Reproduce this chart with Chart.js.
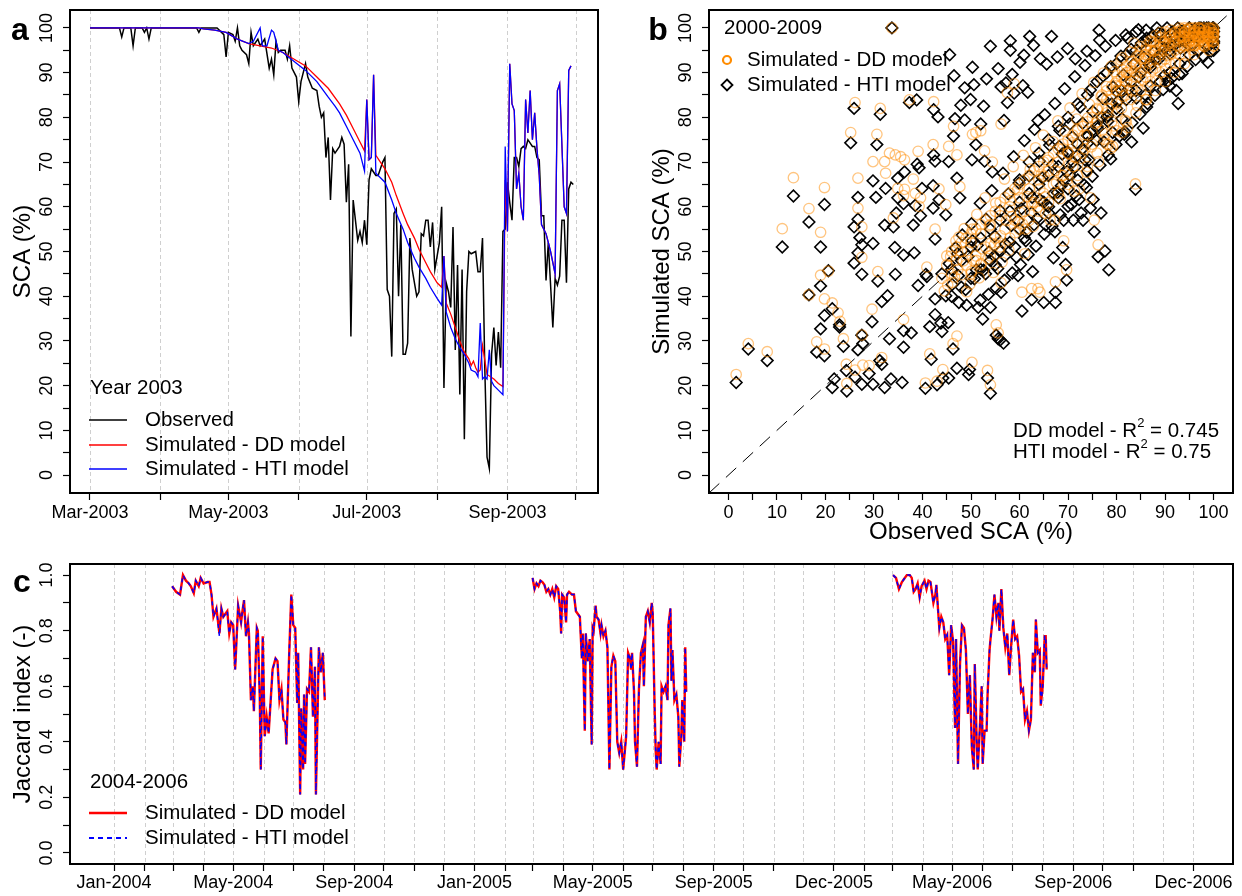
<!DOCTYPE html>
<html>
<head>
<meta charset="utf-8">
<script src="https://cdn.jsdelivr.net/npm/chart.js@4.4.1/dist/chart.umd.min.js"></script>
<style>
  html, body { margin: 0; padding: 0; background: #fff; }
  #wrap { position: relative; width: 1242px; height: 896px; }
  #wrap canvas { position: absolute; left: 0; top: 0; }
</style>
</head>
<body>
<div id="wrap">
  <canvas id="chartA" width="1242" height="896"></canvas>
  <canvas id="chartB" width="1242" height="896"></canvas>
  <canvas id="chartC" width="1242" height="896"></canvas>
</div>
<script>
// ---------- panel a : SCA 2003 (x = days since 1 Mar 2003) ----------
const monthDays2003 = [0, 31, 61, 92, 122, 153, 184, 214];
const monthLabels2003 = { 0: 'Mar-2003', 61: 'May-2003', 122: 'Jul-2003', 184: 'Sep-2003' };

const obsDays = [0,13,14,15,18,19,20,23,24,25,26,27,47,48,49,56,58,59,60,61,63,64,65,66,67,69,70,71,72,74,75,77,79,80,81,82,83,84,86,87,88,89,91,92,93,95,96,98,100,101,102,103,104,105,106,107,108,110,111,112,113,114,115,116,118,119,120,121,122,123,124,126,127,129,130,131,132,133,134,135,136,137,138,139,140,141,142,144,145,146,147,148,149,150,151,152,154,155,156,157,158,159,160,161,162,163,164,165,166,167,168,170,171,172,173,174,175,176,177,178,179,180,181,182,183,184,185,186,187,188,189,190,191,192,193,195,196,197,198,199,200,201,202,204,205,206,207,208,209,210,211,212,213];
const obsSca = [100,100,98,100,100,96,100,100,99,100,97.5,100,100,99,100,100,99,98.5,93.5,99,98.5,97,100,96,95,94,92,99,96,97.5,96,97.5,91,93,89.5,97,94.5,95,95,93,96,91,89,83.5,88,92,89,86.5,86,82.5,80,81,71,75.5,61.5,73,72,73.5,75.5,74,61,69.5,31,61.5,52.5,54.5,52,57,51.5,66,68.5,67,67,70,71,41.5,40,26.5,58.5,59.5,40,56,27,27,29.5,53,46,40,41,54,53.5,57,57,51,56.5,46,52,60,19.5,43,41,37.5,55.5,28,47,18,46,8,41,50,49.5,50,45.5,45.5,53,24,4,1.5,27,33,24.5,32,24,54.5,55,65.5,61,57,71,71,69,73,73.5,73,75,73.5,73.5,71,70.5,58,58,43.5,52,33,44,42.5,44.5,57,57,43,64,65.5,65];

const ddDays = [0,48,50,55,60,65,70,75,80,85,90,95,100,105,110,113,116,119,121,122,123,124,125,126,128,130,133,135,138,140,143,145,148,150,153,155,156,157,159,161,163,165,167,168,169,170,171,172,173,175,178,180,182,183,184,185,186,187,188,189,190,191,192,193,194,195,196,197,198,199,201,203,205,206,207,209,210,211,212];
const ddSca = [100,100,99.8,99.5,99,97.5,96.5,96,95.5,94.5,93,91.5,89,86.5,83,80.5,77.5,74.5,72.5,84,70.5,71,89.5,71.5,70,68.5,65.5,62.5,58.5,56,53,50.5,47.5,45.5,43,42,49,38.5,36,33,30,27.5,26,24.5,25.5,24,23,23.5,29,22.5,21.5,20.5,19.8,66,54.5,92,83,81.5,64,67.5,60,57,84,76.5,86,75,81,73,67,56,54,50,45,86,87.5,60,58.5,90.5,91.5];

const htiDays = [0,48,50,55,60,65,70,72,75,76,78,80,81,83,85,90,95,100,105,108,110,113,116,119,121,122,123,124,125,126,128,130,133,135,138,140,143,145,148,150,153,155,156,157,159,161,163,165,167,168,170,171,172,173,174,175,176,177,178,180,182,183,184,185,186,187,188,189,190,191,192,193,194,195,196,197,198,199,201,203,205,206,207,209,210,211,212];
const htiSca = [100,100,99.8,99.5,99,97.5,96.5,97,100,96,96,99.5,99,95,94.5,92.5,90.5,88,84.5,82.5,81,78,75,72,68,84,70.5,71,89.5,67.5,66.5,65.5,61.5,58.5,55,52,48.5,46.5,44,42,39.5,38,49,36.5,33,30.5,28.5,27,25,23.5,23,22,34,21.5,22,21.5,28,21,20,19,18,73.5,54.5,92,83,81.5,64,67.5,60,57,84,76.5,86,75,81,73,67,56,54,50,45,86,87.5,60,58.5,90.5,91.5];

// ---------- panel b : observed vs simulated SCA, 2000-2009 ----------
const htiPairs = [
[1.6,20.7],[4.1,28.2],[8.0,25.6],[11.1,51.0],[13.4,62.4],[16.6,56.6],[16.6,40.3],[18.2,27.5],[19.0,51.0],[19.0,42.3],[19.0,32.7],[19.8,60.5],[19.8,26.7],[19.8,35.7],[20.6,45.7],[21.4,37.2],[21.8,21.5],[21.4,19.6],[22.9,33.6],[22.9,33.1],[23.7,28.8],[24.3,23.4],[24.4,18.8],[25.2,74.3],[25.9,82.0],[25.9,55.5],[25.9,47.4],[26.1,21.9],[26.7,62.1],[26.7,57.2],[26.7,49.7],[26.7,28.0],[27.1,53.1],[27.5,51.5],[27.5,44.9],[27.5,31.3],[27.5,20.3],[27.7,29.4],[29.0,22.7],[29.6,34.3],[29.8,20.3],[29.8,51.8],[29.8,65.8],[30.4,62.1],[30.6,73.9],[30.8,43.4],[31.2,25.6],[31.3,80.7],[31.6,24.8],[31.6,38.8],[32.2,19.6],[32.4,64.1],[32.2,55.9],[32.8,40.1],[33.2,30.5],[33.5,21.5],[33.7,100],[34.0,55.5],[34.3,50.9],[34.4,44.9],[34.6,58.6],[34.9,62.0],[34.9,66.4],[35.8,20.7],[36.1,28.6],[36.1,32.3],[36.1,60.7],[36.3,67.8],[36.1,49.2],[37.3,83.3],[37.7,31.8],[38.1,55.9],[38.3,49.7],[38.5,60.3],[38.8,83.9],[38.9,69.5],[39.1,42.4],[39.3,68.7],[39.6,58.0],[39.9,64.1],
[40.6,19.4],[40.7,44.9],[40.9,44.4],[41.5,33.2],[41.8,25.9],[42.2,64.7],[42.2,59.7],[42.3,81.7],[42.3,71.6],[42.6,70.2],[42.6,52.8],[42.6,39.4],[42.6,35.9],[43.0,20.2],[43.2,80.1],[43.4,61.6],[43.8,34.0],[44.0,32.1],[44.2,21.7],[44.8,58.2],[45.3,34.1],[45.4,21.7],[45.4,70.1],[45.6,94.0],[46.3,28.2],[46.4,75.8],[46.5,89.3],[46.7,79.7],[47.1,23.9],[47.1,66.4],[47.2,49.5],[47.5,38.6],[47.7,62.0],[47.9,82.7],[48.7,86.6],[48.7,79.4],[49.1,38.0],[49.5,22.5],[49.7,23.6],[49.9,84.0],[50.2,70.5],[50.3,52.4],[50.3,91.2],[50.6,87.3],[51.0,73.9],[51.1,45.9],[51.5,37.5],[52.0,78.5],[52.4,34.9],[52.6,82.5],[52.8,70.2],[53.2,88.6],[53.4,21.7],[54.0,18.3],[54.0,37.5],[54.0,95.9],[54.4,67.8],[54.8,49.0],[55.2,31.3],[55.6,30.5],[55.6,90.9],[56.0,30.2],[56.2,40.9],[56.2,86.8],[56.7,29.5],[56.8,79.3],[57.2,87.7],[57.5,83.3],[58.1,95.0],[58.1,97.1],[58.5,89.6],[58.9,85.4],[59.7,57.0],[59.7,44.6],
[60.1,92.3],[60.5,36.7],[60.7,87.1],[60.9,93.9],[61.3,52.4],[61.7,85.6],[62.1,98.1],[62.5,58.6],[62.5,39.2],[62.7,45.5],[62.9,96.1],[63.8,79.3],[64.2,61.6],[64.3,93.1],[65.0,38.6],[65.4,55.9],[65.6,91.9],[66.0,58.6],[66.6,98.1],[67.0,48.6],[67.3,54.4],[67.4,40.9],[67.4,38.6],[67.8,93.5],[68.2,73.5],[68.6,64.7],[68.9,50.9],[69.1,57.0],[69.5,47.1],[69.7,43.6],[69.9,95.4],[69.9,72.3],[70.3,67.1],[70.7,60.5],[71.1,57.0],[71.5,68.9],[71.5,93.1],[72.3,61.6],[72.7,58.6],[73.1,57.0],[73.5,70.5],[73.8,64.3],[73.9,94.8],[74.1,75.8],[74.3,70.5],[74.6,59.7],[75.2,61.6],[75.4,54.4],[75.9,74.8],[76.2,48.8],[76.4,99.5],[76.5,97.3],[76.8,58.6],[77.4,74.5],[77.6,50.1],[78.2,79.1],[78.4,45.9],[78.8,70.7],[79.2,76.6],
[80.0,85.8],[80.6,75.8],[81.1,79.7],[81.7,76.8],[82.3,97.7],[83.1,74.5],[83.9,63.9],[84.1,84.3],[84.5,99.6],[85.5,77.6],[86.2,82.3],[86.2,97.7],[87.0,91.2],[88.6,98.8],[89.8,89.3],[90.6,88.1],[91.0,87.0],[92.3,86.0],[92.7,83.1],[93.5,89.8],[98.8,92.3],[100,95.0],
[44,45],[46,46],[48,48],[50,51],[52,53],[54,55],[56,57],[58,59],[60,61],[62,63],[64,65],[66,67],[68,69],[70,72],[72,74],[74,76],[76,78],[78,80],[80,82],[82,84],[84,86],[86,85],[87,87],[89,88],[91,90],[93,92],[95,94],[97,95],[99,96],[100,97],[100,98],[100,100],[99,99],[98,100],[97,99],[96,98],[95,100],[94,97],[93,99],[92,98],[91,95],[90,97],[89,96],[88,93],
[60,66],[62,70],[64,72],[66,75],[68,78],[70,80],[72,83],[74,85],[76,88],[78,90],[80,92],[82,94],[84,95],[86,97],[66,60],[68,62],[70,64],[72,66],[74,68],[60,55],[58,52],[56,50],[54,48],[52,46],[50,44],[48,42],[46,40],
[53,45],[55,47],[57,49],[59,51],[61,53],[63,56],[65,61],[67,63],[69,66],[71,70],[73,73],[75,77],[77,80],[79,83],[81,86],[83,88],[85,90],[87,92],[89,94],[91,96],[93,97],[95,98],[97,100],[99,100]
];
const htiBandPairs = [
[44.8,40.1],[45.5,47.3],[46.1,42.6],[46.8,50.8],[47.4,44.6],[48.2,53.7],[48.9,41.5],[49.4,48.9],[50.1,56.2],[50.7,43.9],[51.3,51.4],[51.9,60.8],[52.6,45.8],[53.1,57.2],[53.7,49.9],[54.3,63.6],[54.9,53.4],[55.5,46.2],[56.0,59.1],[56.6,67.5],[57.1,51.7],[57.7,62.9],[58.3,55.8],[58.8,71.2],[59.4,48.7],[59.9,65.3],[60.4,59.6],[61.0,74.8],[61.5,54.3],[62.0,66.9],[62.6,62.1],[63.1,77.3],[63.6,57.4],[64.1,70.2],[64.7,66.5],[65.2,80.6],[65.7,60.3],[66.2,73.8],[66.8,69.4],[67.3,83.1],[67.8,63.2],[68.3,77.1],[68.8,71.8],[69.3,86.4],[69.8,67.9],[70.4,78.5],[70.9,75.6],[71.4,89.1],[71.9,71.4],[72.5,82.3],[73.0,78.7],[73.5,91.6],[74.0,74.2],[74.6,86.1],[75.1,81.3],[75.6,93.8],[76.1,77.5],[76.7,88.7],[77.2,84.2],[77.7,95.9],[78.2,80.4],[78.8,91.3],[79.3,86.8],[79.8,97.2],[80.3,83.6],[80.9,93.7],[81.4,89.5],[81.9,98.4],[82.5,86.3],[83.0,95.2],[83.5,91.9],[84.0,99.1],[84.6,89.0],[85.1,96.6],[85.6,93.4],[86.1,99.5],[86.7,91.8],[87.2,97.9],[87.7,94.6],[88.3,100],[88.8,93.1],[89.3,98.7],[89.9,95.4],[90.4,100],[91.0,94.2],[91.5,99.1],[92.1,96.3],[92.6,100],[93.2,95.5],[93.8,99.4],[94.4,97.6],[95.0,100],[95.6,96.4],[96.2,99.8],[96.8,97.9],[97.4,100],[98.0,98.4],[98.6,100],[99.2,98.9],[99.8,100],[100,99.2],[100,96.6],[99.5,94.8],[97.9,93.6],[96.3,92.9],[94.6,91.4],[92.9,89.6],[91.3,88.7],[89.6,86.2],[87.9,84.9],[86.4,83.1],[84.8,80.7],[83.2,78.8],[81.6,76.2],[79.9,73.9],[78.3,71.6],[76.6,69.3],[75.0,66.8],[73.3,64.9],[71.7,62.4],[70.0,60.1],[68.4,58.2],[66.7,55.7],[65.1,53.9],[63.4,51.2],[61.8,49.3],[60.2,47.1],[58.5,45.2],[56.9,43.6],[55.2,41.8],[53.6,40.4],[51.9,39.1]
];
const ddPairs = [
[1.6,22.5],[4.1,29.4],[8.0,27.6],[11.1,55.1],[13.4,66.5],[16.6,59.6],[16.6,40.3],[19.0,54.3],[19.0,44.7],[18.2,29.8],[19.8,64.3],[19.8,39.4],[19.8,28.2],[20.6,45.6],[22.6,36.3],[23.0,34.4],[23.7,30.5],[24.3,24.8],[25.2,76.6],[26.1,83.3],[26.7,66.4],[26.7,59.7],[27.5,55.5],[27.5,48.7],[27.5,31.3],[27.7,24.6],[29.6,37.1],[29.8,70.1],[30.6,76.2],[30.8,45.5],[31.3,82.0],[31.6,26.3],[32.2,70.1],[33.2,72.0],[33.7,100],[34.4,71.6],[34.9,64.1],[35.5,71.2],[36.1,34.8],[36.3,70.5],[36.3,63.9],[37.3,83.9],[38.1,66.2],[39.1,72.4],[39.3,60.1],[39.6,62.0],
[40.6,20.6],[41.5,27.1],[42.2,73.9],[42.3,83.5],[43.0,21.0],[44.2,23.6],[45.4,73.5],[46.3,29.4],[47.1,71.6],[47.1,31.1],[47.5,53.2],[50.2,25.2],[50.3,76.2],[51.0,76.6],[52.0,77.0],[53.4,23.4],[54.0,20.2],[55.2,33.6],[55.6,31.8],[56.2,78.5],[59.7,56.6],[60.5,40.9],[62.5,41.7],[63.8,41.7],[64.2,40.9],[67.4,43.2],[69.1,52.4],[69.7,45.9],[75.4,57.0],[77.4,75.1],[78.4,73.9],[79.2,73.5],[81.1,76.6],[82.3,77.7],[83.9,65.1],[86.2,83.9],
[21.4,38.5],[24.4,20.5],[26.1,23.5],[29.0,24.5],[32.4,67.5],[34.0,57.5],[36.1,62.5],[38.5,63.0],[40.9,46.5],[42.6,55.0],[43.4,64.0],[44.8,60.5],[46.4,78.0],[47.7,64.5],[49.1,41.0],[50.3,55.0],[51.1,48.0],[52.8,72.5],[54.4,70.0],[54.8,51.5],[56.2,43.0],[57.5,85.5],[58.9,87.5],[61.3,55.0],[62.5,61.0],[64.2,64.0],[65.4,58.5],[67.3,57.0],[68.6,67.0],[70.3,69.5],[71.5,71.0],[72.3,64.0],[73.5,73.0],[74.6,62.0],[76.2,51.5],[78.8,73.0],
[44,44],[45,47],[46,45],[47,48],[48,50],[49,47],[50,52],[51,49],[52,54],[53,51],[54,56],[55,53],[56,58],[57,55],[58,60],[59,57],[60,62],[61,59],[62,64],[63,61],[64,66],[65,63],[66,68],[67,65],[68,70],[69,67],[70,72],[71,69],[72,74],[73,72],[74,76],[75,74],[76,79],[77,77],[78,81],[79,79],[80,83],[81,82],[82,85],[83,84],[84,87],[85,86],[86,89],[87,88],[88,91],[89,90],[90,93],[91,92],[92,95],[93,94],[94,96],[95,96],[96,97],[97,98],[98,99],[99,99],[100,100],[100,99],[100,98],[99,100],[98,100],[97,100],[96,100],[95,99],[94,99],[93,98],[92,97],[91,96],[90,95],[89,94],[88,93],[87,92],[86,91],[85,90],[84,89],[83,88],[82,88],[81,86],[80,86],[79,84],[78,84],[77,82],[76,82],[75,80],[74,79],[73,78],[72,77],[71,76],[70,75],[69,74],[68,73],[67,72],[66,71],[65,70],[64,69],[63,68],[62,67],[61,66],[60,65],[59,64],[58,63],[57,62],[56,61],[55,59],[54,58],[53,57],[52,56],[51,55],[50,54],[49,53],[48,52],[47,51],[46,50],[45,49],
[50,45],[52,47],[54,49],[56,51],[58,53],[60,55],[62,57],[64,59],[66,61],[68,63],[70,65],[72,67],[74,69],[76,72],[78,74],[80,77],[82,79],[84,81],[86,84],[88,86],[90,88],[92,90],[94,92],[96,94],[98,96],
[93,100],[94,100],[95,100],[96,99],[97,99],[98,98],[99,98],[100,97],[100,96],[99,95],[98,97],[97,97],[96,96],[95,97],[94,98],[92,99],[91,98],[90,97],[89,97],[88,96],[87,95],[86,94],[85,93],[84,92],[83,91],[82,90],[81,89],[80,88],[79,87],[78,86],[77,85]
];
const ddBandPairs = [
[44.5,41.2],[45.8,48.9],[46.2,43.1],[46.9,52.4],[47.3,46.0],[48.1,44.8],[48.6,55.1],[49.3,50.2],[49.8,42.7],[50.6,47.9],[51.2,58.3],[51.7,44.1],[52.3,50.6],[52.9,62.0],[53.5,48.4],[53.8,55.7],[54.6,45.3],[55.1,60.8],[55.7,52.1],[56.4,47.6],[56.9,66.2],[57.3,56.9],[57.8,50.3],[58.2,61.4],[58.7,69.0],[59.1,54.2],[59.6,63.8],[60.2,58.7],[60.8,71.5],[61.1,49.5],[61.6,62.3],[62.2,68.4],[62.8,55.6],[63.3,73.2],[63.7,59.9],[64.5,67.3],[64.9,76.0],[65.3,62.2],[65.8,70.4],[66.3,57.1],[66.9,74.6],[67.4,68.1],[67.9,79.2],[68.4,61.8],[68.8,72.9],[69.4,76.8],[69.8,66.0],[70.4,82.1],[70.9,74.3],[71.3,63.5],[71.8,79.6],[72.5,70.8],[72.9,85.3],[73.4,76.1],[73.8,67.7],[74.4,82.9],[74.8,73.4],[75.3,87.8],[75.7,78.6],[76.3,70.1],[76.8,84.6],[77.3,89.9],[77.7,76.3],[78.3,82.0],[78.9,91.4],[79.4,78.1],[79.8,87.6],[80.3,81.2],[80.9,92.8],[81.4,84.7],[81.8,79.3],[82.4,90.1],[82.9,94.6],[83.3,85.9],[83.8,91.7],[84.3,82.6],[84.9,95.8],[85.4,88.4],[85.8,93.2],[86.4,86.9],[86.9,97.1],[87.4,90.6],[87.9,94.9],[88.3,88.2],[88.8,97.8],[89.3,92.5],[89.7,96.4],[90.2,90.9],[90.8,98.6],[91.3,94.3],[91.7,97.5],[92.2,92.1],[92.8,99.2],[93.3,95.6],[93.7,98.1],[94.2,93.9],[94.7,99.6],[95.2,97.2],[95.6,95.1],[96.1,98.8],[96.6,96.5],[97.1,99.7],[97.5,97.9],[98.1,95.8],[98.6,99.1],[99.1,97.4],[99.5,99.8],[100,98.6],[100,95.9],[99.6,96.9],[98.9,98.3],[97.8,96.2],[96.9,100],[95.9,99.4],[94.9,96.7],[93.9,97.3],[92.6,96.0],[91.1,99.5],[90.5,93.8],[89.1,99.0],[87.6,96.8],[86.1,95.2],[84.6,93.9],[83.6,96.6],[81.1,93.3],[79.6,90.2],[77.9,86.9],[76.0,81.7],[74.1,79.9],[71.9,77.4],[70.1,71.9],[67.6,65.4],[65.1,66.8],[62.6,60.4],[60.6,56.2],[58.4,57.8],[56.1,53.5],[54.1,51.9],[52.1,47.3],[50.1,45.6],[48.4,47.9],[46.6,44.3],[45.2,42.5]
];
const ddTopPairs = [
[93.4,99.7],[93.9,98.9],[94.3,99.5],[94.8,98.4],[95.3,99.9],[95.7,98.7],[96.2,99.3],[96.7,98.2],[97.2,99.8],[97.6,98.8],[98.2,99.4],[98.7,98.5],[99.2,99.9],[99.7,99.0],[100,99.6],[100,98.8],[99.9,97.9],[99.4,97.2],[98.8,96.9],[98.3,97.6],[97.7,96.6],[97.3,98.1],[96.8,97.4],[96.3,96.1],[95.8,97.9],[95.4,96.3],[94.9,97.6],[94.4,96.2],[93.8,96.9],[93.1,98.4],[92.6,97.6],[92.1,98.9],[91.6,96.8],[91.2,98.2],[90.7,96.5],[90.1,99.1],[89.6,95.8],[89.2,97.9],[88.7,95.1],[88.1,98.3],[87.6,94.7],[87.1,96.9],[86.6,93.6],[86.2,96.1],[85.7,92.4],[85.2,94.8],[84.8,91.3],[84.2,93.7],[83.7,90.2],[83.2,92.6],[82.6,89.4],[82.1,91.5],[81.6,88.1],[81.2,90.6],[80.6,86.9],[80.1,89.3]
];
const oneToOne = [-4, 104];

// ---------- panel c : Jaccard index 2004-2006 (x = days since 1 Jan 2004) ----------
const monthDays0406 = [0,31,60,91,121,152,182,213,244,274,305,335,366,397,425,456,486,517,547,578,609,639,670,700,731,762,790,821,851,882,912,943,974,1004,1035,1065,1096];
const tickDays0406 = [0,31,60,91,121,152,182,213,244,274,305,335,366,397,425,456,486,517,547,578,609,639,670,731,762,790,821,851,882,912,943,974,1004,1035,1096];
const monthLabels0406 = { 0: 'Jan-2004', 121: 'May-2004', 244: 'Sep-2004', 366: 'Jan-2005', 486: 'May-2005', 609: 'Sep-2005', 731: 'Dec-2005', 851: 'May-2006', 974: 'Sep-2006', 1096: 'Dec-2006' };

const jacDays2004 = [59,61,63,67,70,73,76,78,81,83,86,88,91,95,97,99,101,104,107,109,111,113,115,117,119,121,123,126,129,130,132,134,136,137,139,141,142,145,146,148,149,151,153,155,157,161,164,166,168,170,172,174,175,178,180,182,184,186,187,189,190,192,193,194,196,198,200,202,204,205,208,210,212,214];
const jacDd2004 = [0.96,0.95,0.94,0.93,1.0,0.98,0.97,0.96,0.935,0.98,0.96,0.99,0.97,0.975,0.975,0.93,0.85,0.88,0.79,0.88,0.85,0.86,0.87,0.79,0.83,0.82,0.66,0.89,0.83,0.86,0.91,0.78,0.83,0.79,0.55,0.60,0.51,0.81,0.80,0.56,0.30,0.78,0.42,0.49,0.43,0.66,0.70,0.69,0.55,0.59,0.48,0.47,0.39,0.73,0.93,0.82,0.81,0.54,0.72,0.21,0.52,0.30,0.57,0.32,0.59,0.58,0.74,0.49,0.67,0.21,0.74,0.65,0.72,0.55];
const jacHti2004 = [0.96,0.95,0.94,0.93,1.0,0.98,0.97,0.96,0.935,0.98,0.96,0.99,0.97,0.975,0.975,0.93,0.85,0.88,0.78,0.88,0.85,0.86,0.87,0.79,0.83,0.82,0.66,0.89,0.83,0.86,0.91,0.78,0.83,0.79,0.55,0.60,0.51,0.81,0.80,0.56,0.30,0.78,0.42,0.49,0.43,0.66,0.70,0.69,0.55,0.59,0.48,0.47,0.39,0.73,0.93,0.82,0.81,0.54,0.72,0.21,0.52,0.30,0.57,0.32,0.59,0.58,0.74,0.49,0.67,0.21,0.74,0.65,0.72,0.55];

const jacDays2005 = [425,427,429,431,433,435,437,439,441,443,445,447,449,451,453,454,455,457,459,460,462,465,467,469,471,473,475,476,478,479,481,483,485,486,487,489,490,492,494,495,497,499,501,503,505,507,509,511,513,515,517,520,522,524,525,526,528,529,531,533,535,537,538,540,542,544,546,547,549,550,551,553,555,556,558,560,562,563,565,566,567,569,571,573,574,576,577,579,580,581];
const jacDd2005 = [0.99,0.95,0.97,0.96,0.98,0.975,0.965,0.94,0.95,0.93,0.95,0.92,0.96,0.95,0.87,0.79,0.93,0.92,0.83,0.93,0.94,0.93,0.93,0.87,0.86,0.85,0.70,0.79,0.44,0.79,0.69,0.77,0.39,0.81,0.80,0.89,0.85,0.84,0.79,0.82,0.78,0.80,0.74,0.30,0.67,0.71,0.69,0.40,0.36,0.40,0.30,0.42,0.72,0.70,0.66,0.72,0.58,0.40,0.31,0.59,0.72,0.75,0.60,0.85,0.87,0.83,0.90,0.86,0.51,0.37,0.30,0.40,0.32,0.60,0.58,0.60,0.55,0.82,0.88,0.62,0.73,0.55,0.57,0.49,0.31,0.42,0.55,0.40,0.74,0.58];
const jacHti2005 = [0.99,0.95,0.97,0.96,0.98,0.975,0.965,0.94,0.95,0.93,0.95,0.92,0.96,0.95,0.87,0.79,0.93,0.92,0.83,0.93,0.94,0.93,0.93,0.87,0.86,0.85,0.70,0.79,0.44,0.79,0.69,0.77,0.39,0.81,0.80,0.89,0.85,0.84,0.79,0.82,0.78,0.80,0.74,0.30,0.67,0.71,0.69,0.40,0.36,0.40,0.30,0.42,0.72,0.70,0.66,0.72,0.58,0.40,0.31,0.59,0.72,0.75,0.60,0.85,0.87,0.83,0.90,0.86,0.51,0.37,0.30,0.40,0.32,0.60,0.58,0.60,0.55,0.82,0.88,0.62,0.73,0.55,0.57,0.49,0.31,0.42,0.55,0.40,0.74,0.58];

const jacDays2006 = [791,794,797,800,802,805,808,810,812,814,816,818,820,823,825,827,829,832,834,835,837,838,840,842,844,846,848,850,852,854,855,857,859,861,863,865,867,869,871,873,874,876,877,879,881,882,884,886,887,889,890,892,894,896,898,899,901,903,905,907,909,911,913,915,917,919,921,923,925,927,929,931,933,935,936,938,940,941,943,945,946,947];
const jacDd2006 = [1.0,0.99,0.95,0.975,0.985,1.0,1.0,0.99,0.94,0.95,0.97,0.92,0.96,0.98,0.95,0.98,0.975,0.90,0.93,0.965,0.86,0.81,0.85,0.83,0.77,0.785,0.64,0.82,0.76,0.45,0.77,0.32,0.68,0.82,0.81,0.73,0.50,0.64,0.38,0.30,0.68,0.39,0.30,0.44,0.60,0.32,0.44,0.44,0.57,0.73,0.77,0.84,0.93,0.85,0.90,0.80,0.95,0.81,0.74,0.79,0.64,0.75,0.84,0.77,0.78,0.71,0.58,0.59,0.48,0.51,0.44,0.48,0.72,0.65,0.84,0.72,0.73,0.53,0.60,0.78,0.78,0.66];
const jacHti2006 = [1.0,0.99,0.95,0.975,0.985,1.0,1.0,0.99,0.94,0.95,0.97,0.92,0.96,0.98,0.95,0.98,0.975,0.90,0.93,0.965,0.86,0.81,0.85,0.83,0.77,0.785,0.64,0.82,0.76,0.45,0.77,0.32,0.68,0.82,0.81,0.73,0.50,0.64,0.38,0.30,0.68,0.39,0.30,0.44,0.60,0.32,0.44,0.44,0.57,0.73,0.77,0.84,0.93,0.85,0.90,0.80,0.95,0.81,0.74,0.79,0.64,0.75,0.84,0.77,0.78,0.71,0.58,0.59,0.48,0.51,0.44,0.48,0.72,0.65,0.84,0.72,0.73,0.53,0.60,0.78,0.78,0.66];

const scaTicks = [0,5,10,15,20,25,30,35,40,45,50,55,60,65,70,75,80,85,90,95,100];
const scaLabels = [0,10,20,30,40,50,60,70,80,90,100];
const jacTicks = [0,0.1,0.2,0.3,0.4,0.5,0.6,0.7,0.8,0.9,1.0];
const jacLabels = [0,0.2,0.4,0.6,0.8,1.0];

// ---------- helpers ----------
const FONT = '"Liberation Sans", Arial, Helvetica, sans-serif';
Chart.defaults.font.family = FONT;
Chart.defaults.color = '#000';
const W = 1242, H = 896;

const boxA = { left: 70, top: 10, right: 598, bottom: 493 };
const boxB = { left: 709, top: 10, right: 1233, bottom: 493 };
const boxC = { left: 70, top: 564, right: 1233, bottom: 864 };

function pts(xs, ys) { return xs.map((x, i) => ({ x: x, y: ys[i] })); }
function pairs(list) { return list.map(p => ({ x: p[0], y: p[1] })); }
function segments(dayLists, valLists) {
  const out = [];
  dayLists.forEach((days, k) => {
    if (k) out.push({ x: days[0] - 1, y: null });
    days.forEach((d, i) => out.push({ x: d, y: valLists[k][i] }));
  });
  return out;
}

const tickGrid = { drawOnChartArea: false, drawTicks: true, tickLength: 7, tickColor: '#000', tickWidth: 1.2 };

function yAxis(box, min, max, ticks) {
  return {
    type: 'linear', position: 'left', min: min, max: max,
    afterBuildTicks: s => { s.ticks = ticks.map(v => ({ value: v })); },
    afterFit: s => { s.width = box.left; s.paddingTop = 0; s.paddingBottom = 0; },
    ticks: { display: false },
    grid: tickGrid,
    border: { display: false }
  };
}
function xAxis(box, min, max, ticks, labelOf, pad) {
  return {
    type: 'linear', position: 'bottom', min: min, max: max,
    afterBuildTicks: s => { s.ticks = ticks.map(v => ({ value: v })); },
    afterFit: s => { s.height = H - box.bottom; s.paddingLeft = 0; s.paddingRight = 0; },
    ticks: { autoSkip: false, maxRotation: 0, minRotation: 0, padding: pad, color: '#000',
             font: { size: 18 }, callback: labelOf },
    grid: tickGrid,
    border: { display: false }
  };
}
function layoutFor(box) {
  return { padding: { left: 0, top: box.top, right: W - box.right, bottom: 0 } };
}

// R-style frame, dashed month lines, rotated y labels, titles and legends
const rPanel = {
  id: 'rPanel',
  beforeDatasetsDraw(chart, args, o) {
    if (!o.vgrid) return;
    const { ctx, chartArea: a } = chart;
    const xs = chart.scales.x;
    ctx.save();
    ctx.strokeStyle = '#cfcfcf'; ctx.lineWidth = 1; ctx.setLineDash([4, 3]);
    for (const d of o.vgrid) {
      const px = Math.round(xs.getPixelForValue(d)) + 0.5;
      ctx.beginPath(); ctx.moveTo(px, a.top); ctx.lineTo(px, a.bottom); ctx.stroke();
    }
    ctx.restore();
  },
  afterDraw(chart, args, o) {
    const { ctx, chartArea: a } = chart;
    const ys = chart.scales.y;
    ctx.save();
    ctx.strokeStyle = '#000'; ctx.lineWidth = 2; ctx.setLineDash([]);
    ctx.strokeRect(a.left, a.top, a.right - a.left, a.bottom - a.top);
    ctx.fillStyle = '#000';
    ctx.textAlign = 'center'; ctx.textBaseline = 'middle';
    ctx.font = '18px ' + FONT;
    for (const v of o.yLabels) {
      ctx.save();
      ctx.translate(o.yLabelX, ys.getPixelForValue(v));
      ctx.rotate(-Math.PI / 2);
      ctx.fillText(o.yFmt(v), 0, 0);
      ctx.restore();
    }
    ctx.font = '24px ' + FONT;
    ctx.save();
    ctx.translate(o.yTitleX, (a.top + a.bottom) / 2);
    ctx.rotate(-Math.PI / 2);
    ctx.fillText(o.yTitle, 0, 0);
    ctx.restore();
    if (o.xTitle) ctx.fillText(o.xTitle, (a.left + a.right) / 2, o.xTitleY);
    ctx.font = 'bold 32px ' + FONT;
    ctx.fillText(o.letter[0], o.letter[1], o.letter[2]);

    const lg = o.legend;
    ctx.textAlign = 'left';
    ctx.font = '20.5px ' + FONT;
    ctx.fillText(lg.title, lg.titleX, lg.titleY);
    for (const it of lg.items) {
      ctx.save();
      ctx.strokeStyle = it.color; ctx.lineWidth = it.width; ctx.setLineDash(it.dash || []);
      ctx.beginPath();
      if (it.kind === 'line') {
        ctx.moveTo(lg.x0, it.y); ctx.lineTo(lg.x1, it.y);
      } else if (it.kind === 'circle') {
        ctx.arc(lg.sx, it.y, 4, 0, Math.PI * 2);
      } else {
        ctx.moveTo(lg.sx, it.y - 5.5); ctx.lineTo(lg.sx + 5.5, it.y);
        ctx.lineTo(lg.sx, it.y + 5.5); ctx.lineTo(lg.sx - 5.5, it.y); ctx.closePath();
      }
      ctx.stroke();
      ctx.restore();
      ctx.fillText(it.text, lg.tx, it.y);
    }
    if (o.notes) {
      for (const n of o.notes) {
        let x = n.x;
        for (const part of n.parts) {
          if (part.sup) {
            ctx.font = '13px ' + FONT;
            ctx.fillText(part.t, x, n.y - 8);
          } else {
            ctx.font = '20.5px ' + FONT;
            ctx.fillText(part.t, x, n.y);
          }
          x += ctx.measureText(part.t).width;
        }
      }
    }
    ctx.restore();
  }
};
Chart.register(rPanel);

const common = { responsive: false, animation: false, events: [],
  plugins: { legend: { display: false }, tooltip: { enabled: false } } };

// ---------- panel a ----------
new Chart(document.getElementById('chartA'), {
  type: 'scatter',
  data: { datasets: [
    { data: pts(htiDays, htiSca), showLine: true, borderColor: '#0000ff', borderWidth: 1.3, pointRadius: 0, order: 0 },
    { data: pts(ddDays, ddSca), showLine: true, borderColor: '#ff0000', borderWidth: 1.3, pointRadius: 0, order: 1 },
    { data: pts(obsDays, obsSca), showLine: true, borderColor: '#000000', borderWidth: 1.5, pointRadius: 0, order: 2 }
  ] },
  options: Object.assign({}, common, {
    layout: layoutFor(boxA),
    scales: {
      x: xAxis(boxA, -8.8, 223.9, monthDays2003, v => monthLabels2003[v] || '', 2),
      y: yAxis(boxA, -4, 104, scaTicks)
    },
    plugins: Object.assign({}, common.plugins, { rPanel: {
      vgrid: monthDays2003,
      yLabels: scaLabels, yFmt: v => String(v), yLabelX: 47,
      yTitle: 'SCA (%)', yTitleX: 23,
      letter: ['a', 20, 31],
      legend: { title: 'Year 2003', titleX: 90, titleY: 388, x0: 89, x1: 127, sx: 108, tx: 145,
        items: [
          { kind: 'line', text: 'Observed', y: 420, color: '#000', width: 1.5 },
          { kind: 'line', text: 'Simulated - DD model', y: 445, color: '#ff0000', width: 1.5 },
          { kind: 'line', text: 'Simulated - HTI model', y: 469, color: '#0000ff', width: 1.5 }
        ] }
    } })
  })
});

// ---------- panel b ----------
new Chart(document.getElementById('chartB'), {
  type: 'scatter',
  data: { datasets: [
    { data: pairs(ddPairs.concat(ddBandPairs, ddTopPairs)), pointStyle: 'circle', pointRadius: 5.2, borderWidth: 1.3,
      borderColor: 'rgba(255,140,0,0.5)', backgroundColor: 'rgba(0,0,0,0)', order: 0 },
    { data: pairs(htiPairs.concat(htiBandPairs)), pointStyle: 'rectRot', pointRadius: 5.8, borderWidth: 1.6,
      borderColor: '#000', backgroundColor: 'rgba(0,0,0,0)', order: 1 },
    { data: pts(oneToOne, oneToOne), showLine: true, borderColor: '#000', borderWidth: 1,
      borderDash: [14, 9], pointRadius: 0, order: 2 }
  ] },
  options: Object.assign({}, common, {
    layout: layoutFor(boxB),
    scales: {
      x: xAxis(boxB, -4, 104, scaTicks, v => (v % 10 === 0 ? String(v) : ''), 2),
      y: yAxis(boxB, -4, 104, scaTicks)
    },
    plugins: Object.assign({}, common.plugins, { rPanel: {
      yLabels: scaLabels, yFmt: v => String(v), yLabelX: 686,
      yTitle: 'Simulated SCA (%)', yTitleX: 662,
      xTitle: 'Observed SCA (%)', xTitleY: 532,
      letter: ['b', 658, 31],
      legend: { title: '2000-2009', titleX: 724, titleY: 28, x0: 0, x1: 0, sx: 727, tx: 747,
        items: [
          { kind: 'circle', text: 'Simulated - DD model', y: 60, color: '#ff8c00', width: 2.2 },
          { kind: 'diamond', text: 'Simulated - HTI model', y: 85, color: '#000', width: 1.8 }
        ] },
      notes: [
        { x: 1013, y: 431, parts: [{ t: 'DD model - R' }, { t: '2', sup: true }, { t: ' = 0.745' }] },
        { x: 1013, y: 452, parts: [{ t: 'HTI model - R' }, { t: '2', sup: true }, { t: ' = 0.75' }] }
      ]
    } })
  })
});

// ---------- panel c ----------
new Chart(document.getElementById('chartC'), {
  type: 'scatter',
  data: { datasets: [
    { data: segments([jacDays2004, jacDays2005, jacDays2006], [jacHti2004, jacHti2005, jacHti2006]),
      showLine: true, spanGaps: false, borderColor: '#0000ff', borderWidth: 1.5, borderDash: [4, 4],
      pointRadius: 0, order: 0 },
    { data: segments([jacDays2004, jacDays2005, jacDays2006], [jacDd2004, jacDd2005, jacDd2006]),
      showLine: true, spanGaps: false, borderColor: '#ff0000', borderWidth: 2.4,
      pointRadius: 0, order: 1 }
  ] },
  options: Object.assign({}, common, {
    layout: layoutFor(boxC),
    scales: {
      x: xAxis(boxC, -44.7, 1136.2, tickDays0406, v => monthLabels0406[v] || '', 1),
      y: yAxis(boxC, -0.04, 1.04, jacTicks)
    },
    plugins: Object.assign({}, common.plugins, { rPanel: {
      vgrid: monthDays0406,
      yLabels: jacLabels, yFmt: v => v.toFixed(1), yLabelX: 47,
      yTitle: 'Jaccard index (-)', yTitleX: 23,
      letter: ['c', 22, 583],
      legend: { title: '2004-2006', titleX: 90, titleY: 782, x0: 89, x1: 127, sx: 108, tx: 145,
        items: [
          { kind: 'line', text: 'Simulated - DD model', y: 813, color: '#ff0000', width: 2.4 },
          { kind: 'line', text: 'Simulated - HTI model', y: 838, color: '#0000ff', width: 2, dash: [5, 4] }
        ] }
    } })
  })
});
</script>
</body>
</html>
